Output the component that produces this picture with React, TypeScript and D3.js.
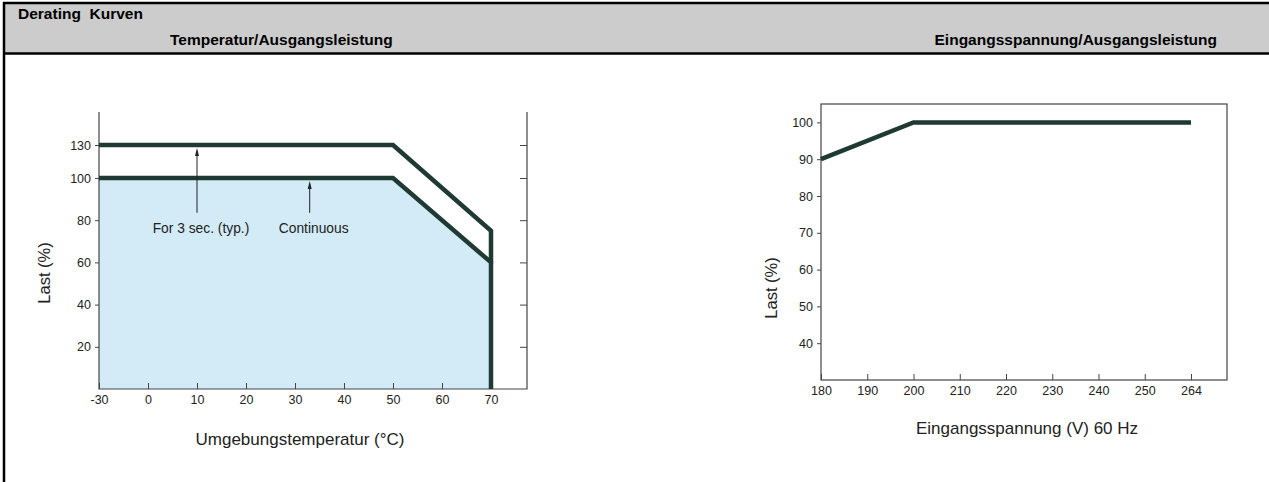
import { useEffect, useRef } from "react";
import * as d3 from "d3";

// Temperatur / Ausgangsleistung
const tempTicks = [-30, 0, 10, 20, 30, 40, 50, 60, 70];
const tempLoadTicks = [20, 40, 60, 80, 100, 130];
const contTemp = [-30, 50, 70, 70];
const contLoad = [100, 100, 60, 0];
const peakTemp = [-30, 50, 70, 70];
const peakLoad = [130, 130, 75, 60];
const notes = [
  { label: "For 3 sec. (typ.)", temp: 10, load: 130 },
  { label: "Continuous", temp: 33, load: 100 },
];

// Eingangsspannung / Ausgangsleistung
const voltTicks = [180, 190, 200, 210, 220, 230, 240, 250, 264];
const voltLoadTicks = [40, 50, 60, 70, 80, 90, 100];
const voltV = [180, 200, 264];
const voltLoad = [90, 100, 100];

const W = 1269;
const H = 482;
const FONT = "'Liberation Sans', Arial, sans-serif";
const LINE = "#1f3a33";
const FILL = "#d3ebf6";
const AXIS = "#444";

// ticks are evenly spaced on both charts, whatever their value
const stepScale = (ticks: number[], x0: number, step: number) =>
  d3.scaleLinear().domain(ticks).range(ticks.map((_, i) => x0 + i * step));

export default function App() {
  const ref = useRef<SVGSVGElement>(null);

  useEffect(() => {
    const svg = d3.select(ref.current);
    svg.selectAll("*").remove();

    // table frame
    svg.append("rect").attr("x", 4).attr("y", 3).attr("width", W).attr("height", 50).attr("fill", "#cccccc");
    svg.append("line").attr("x1", 3).attr("x2", W).attr("y1", 3).attr("y2", 3).attr("stroke", "#000").attr("stroke-width", 2.5);
    svg.append("line").attr("x1", 3).attr("x2", W).attr("y1", 53.5).attr("y2", 53.5).attr("stroke", "#000").attr("stroke-width", 2.5);
    svg.append("line").attr("x1", 4).attr("x2", 4).attr("y1", 2).attr("y2", H).attr("stroke", "#000").attr("stroke-width", 2.5);

    const head = svg.append("g").attr("font-family", FONT).attr("font-weight", "bold").attr("font-size", 15.5).attr("fill", "#000");
    head.append("text").attr("x", 18).attr("y", 19).style("white-space", "pre").text("Derating  Kurven");
    head.append("text").attr("x", 170).attr("y", 45).text("Temperatur/Ausgangsleistung");
    head.append("text").attr("x", 1217).attr("y", 45).attr("text-anchor", "end").text("Eingangsspannung/Ausgangsleistung");

    // ---------- left chart ----------
    const L = { left: 99, right: 527, top: 112, bottom: 389 };
    const x1 = stepScale(tempTicks, L.left, 49);
    const y1 = d3.scaleLinear().domain([0, 100, 130]).range([L.bottom, L.bottom - 211, L.bottom - 244]);
    const g1 = svg.append("g");

    const area = d3.area<number>()
      .x((_, i) => x1(contTemp[i]))
      .y0(y1(0))
      .y1((d) => y1(d));
    g1.append("path").attr("d", area(contLoad)).attr("fill", FILL);

    g1.append("g").attr("transform", `translate(${L.left},0)`)
      .call(d3.axisLeft(y1).tickValues(tempLoadTicks).tickSize(4).tickPadding(4))
      .call((a) => a.select(".domain").remove());
    g1.append("g").attr("transform", `translate(${L.right},0)`)
      .call(d3.axisRight(y1).tickValues(tempLoadTicks).tickSize(-7).tickFormat(() => ""))
      .call((a) => a.select(".domain").remove());
    g1.append("g").attr("transform", `translate(0,${L.bottom})`)
      .call(d3.axisBottom(x1).tickValues(tempTicks).tickSize(-6).tickPadding(6).tickFormat((d) => String(d)))
      .call((a) => a.select(".domain").remove());
    g1.selectAll(".tick text").attr("font-family", FONT).attr("font-size", 12.5).attr("fill", "#222");
    g1.selectAll(".tick line").attr("stroke", AXIS);

    const frame1 = d3.path();
    frame1.moveTo(L.left, L.top);
    frame1.lineTo(L.left, L.bottom);
    frame1.lineTo(L.right, L.bottom);
    frame1.lineTo(L.right, L.top);
    g1.append("path").attr("d", frame1.toString()).attr("fill", "none").attr("stroke", AXIS).attr("stroke-width", 1.2);

    const line1 = d3.line<[number, number]>().x((d) => x1(d[0])).y((d) => y1(d[1]));
    g1.append("path").attr("d", line1(peakTemp.map((t, i) => [t, peakLoad[i]] as [number, number])))
      .attr("fill", "none").attr("stroke", LINE).attr("stroke-width", 4.5).attr("stroke-linejoin", "miter");
    g1.append("path").attr("d", line1(contTemp.map((t, i) => [t, contLoad[i]] as [number, number])))
      .attr("fill", "none").attr("stroke", LINE).attr("stroke-width", 4.5).attr("stroke-linejoin", "miter");

    const ann = g1.append("g").selectAll("g").data(notes).join("g");
    ann.append("line")
      .attr("x1", (d) => x1(d.temp)).attr("x2", (d) => x1(d.temp))
      .attr("y1", y1(83.5)).attr("y2", (d) => y1(d.load) + 6)
      .attr("stroke", "#222").attr("stroke-width", 1);
    ann.append("path")
      .attr("d", (d) => {
        const cx = x1(d.temp), cy = y1(d.load) + 3;
        return `M${cx},${cy}L${cx - 2},${cy + 8}L${cx + 2},${cy + 8}Z`;
      })
      .attr("fill", "#222");
    ann.append("text")
      .attr("x", (d) => x1(d.temp) + 4).attr("y", y1(74))
      .attr("text-anchor", "middle").attr("font-family", FONT).attr("font-size", 13.8).attr("fill", "#222")
      .text((d) => d.label);

    g1.append("text").attr("transform", `translate(${L.left - 49},${y1(55)}) rotate(-90)`)
      .attr("text-anchor", "middle").attr("font-family", FONT).attr("font-size", 16.5).attr("fill", "#222")
      .text("Last (%)");
    g1.append("text").attr("x", 300).attr("y", 445)
      .attr("text-anchor", "middle").attr("font-family", FONT).attr("font-size", 17).attr("fill", "#222")
      .text("Umgebungstemperatur (°C)");

    // ---------- right chart ----------
    const R = { left: 821, right: 1227, top: 104, bottom: 380 };
    const x2 = stepScale(voltTicks, R.left, 46.25);
    const y2 = d3.scaleLinear().domain([30, 105]).range([R.bottom, R.top]);
    const g2 = svg.append("g");

    g2.append("g").attr("transform", `translate(${R.left},0)`)
      .call(d3.axisLeft(y2).tickValues(voltLoadTicks).tickSize(4).tickPadding(4))
      .call((a) => a.select(".domain").remove());
    g2.append("g").attr("transform", `translate(0,${R.bottom})`)
      .call(d3.axisBottom(x2).tickValues(voltTicks).tickSize(-6).tickPadding(6).tickFormat((d) => String(d)))
      .call((a) => a.select(".domain").remove());
    g2.selectAll(".tick text").attr("font-family", FONT).attr("font-size", 12.5).attr("fill", "#222");
    g2.selectAll(".tick line").attr("stroke", AXIS);

    g2.append("rect").attr("x", R.left).attr("y", R.top).attr("width", R.right - R.left).attr("height", R.bottom - R.top)
      .attr("fill", "none").attr("stroke", AXIS).attr("stroke-width", 1.2);

    const line2 = d3.line<number>().x((_, i) => x2(voltV[i])).y((d) => y2(d));
    g2.append("path").attr("d", line2(voltLoad)).attr("fill", "none").attr("stroke", LINE).attr("stroke-width", 4.5);

    g2.append("text").attr("transform", `translate(${R.left - 44},${y2(55)}) rotate(-90)`)
      .attr("text-anchor", "middle").attr("font-family", FONT).attr("font-size", 16.5).attr("fill", "#222")
      .text("Last (%)");
    g2.append("text").attr("x", 1027).attr("y", 434)
      .attr("text-anchor", "middle").attr("font-family", FONT).attr("font-size", 17).attr("fill", "#222")
      .text("Eingangsspannung (V) 60 Hz");
  }, []);

  return (
    <div style={{ position: "absolute", left: 0, top: 0 }}>
      <svg ref={ref} width={W} height={H} style={{ display: "block", background: "#fff" }} />
    </div>
  );
}
